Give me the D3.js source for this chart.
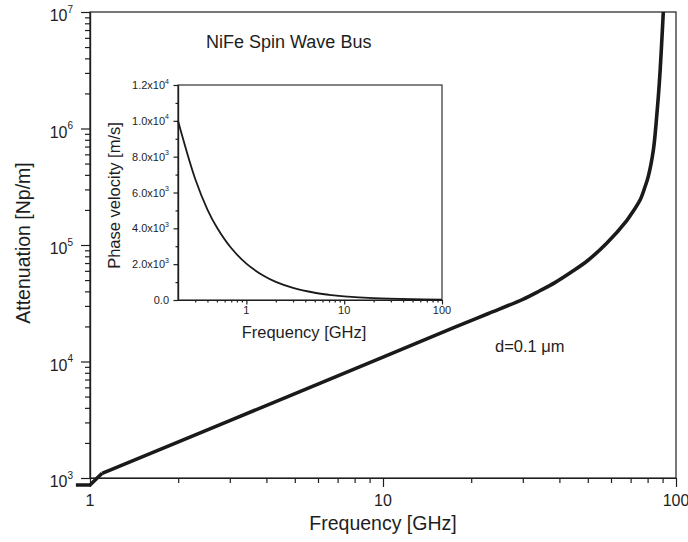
<!DOCTYPE html>
<html><head><meta charset="utf-8">
<script src="https://cdn.jsdelivr.net/npm/d3@7"></script>
<style>
body{margin:0;background:#fff}
svg text{font-family:"Liberation Sans",Arial,Helvetica,sans-serif;fill:#1e1e1e}
</style>
</head><body>
<svg id="c" width="688" height="542"></svg>
<script>
// ---- data ----
// low-frequency stub (drawn straight)
const stubFreq  = [0.895, 1.0, 1.1];
const stubAtten = [871, 871, 1097];
// main attenuation curve
const mainFreq  = [1.1, 3.0, 10, 17.6, 22.8, 30, 34.3, 38.6, 44.6, 50.1, 58.0, 67.9, 71.5, 75.4, 78.4, 80.4, 83.7, 85.9, 87.7, 89.1, 90.5];
const mainAtten = [1097, 3110, 10890, 19700, 25700, 34200, 40500, 47500, 60000, 74000, 103500, 162000, 196000, 243000, 316000, 386000, 653000, 1.26e6, 2.44e6, 4.72e6, 1e7];
const mainXTicks = [1, 10, 100];
const mainYTicks = [1e3, 1e4, 1e5, 1e6, 1e7];
const mainYExp   = ["3", "4", "5", "6", "7"];

const insetFreq = [0.2, 0.3, 0.4, 0.5, 0.7, 1.0, 1.5, 2.0, 3.0, 5.0, 7.0, 10, 20, 50, 100];
const insetVel  = [10000, 6750, 5050, 4050, 2900, 2030, 1350, 1010, 675, 405, 290, 205, 102, 41, 20];
const insetXTicks = [1, 10, 100];
const insetYTicks = [0, 2000, 4000, 6000, 8000, 10000, 12000];
const insetYMant  = ["0.0", "2.0x10", "4.0x10", "6.0x10", "8.0x10", "1.0x10", "1.2x10"];
const insetYExp   = ["", "3", "3", "3", "3", "4", "4"];

const titleText = "NiFe Spin Wave Bus";
const noteText = "d=0.1 \u03BCm";
const xLabel = "Frequency [GHz]";
const yLabel = "Attenuation [Np/m]";
const insetYLabel = "Phase velocity [m/s]";

// ---- layout ----
const svg = d3.select("#c");
const M = {l: 90, r: 676, t: 12, b: 478};
const x = d3.scaleLog().domain([1, 100]).range([M.l, M.r]);
const y = d3.scaleLog().domain([1e3, 1e7]).range([M.b, M.t]);

const ink = "#1e1e1e";

function minorLog(lo, hi) {
  const out = [];
  for (let d = lo; d < hi; d *= 10) for (let k = 2; k <= 9; k++) out.push(k * d);
  return out;
}

function styleAxis(g) {
  g.select(".domain").attr("stroke", ink).attr("stroke-width", 1.2);
  g.selectAll(".tick line").attr("stroke", ink).attr("stroke-width", 1.2);
  g.selectAll(".tick text").remove();
}

// main frame
svg.append("rect").attr("x", M.l).attr("y", M.t).attr("width", M.r - M.l).attr("height", M.b - M.t)
  .attr("fill", "none").attr("stroke", ink).attr("stroke-width", 1.2);

// main x axis
svg.append("g").attr("transform", `translate(0,${M.b})`)
  .call(d3.axisBottom(x).tickValues(minorLog(1, 100)).tickSize(5).tickSizeOuter(0).tickFormat(""))
  .call(styleAxis);
svg.append("g").attr("transform", `translate(0,${M.b})`)
  .call(d3.axisBottom(x).tickValues(mainXTicks).tickSize(9).tickSizeOuter(0).tickFormat(""))
  .call(styleAxis);
svg.append("g").selectAll("text").data(mainXTicks).join("text")
  .attr("x", d => x(d)).attr("y", 506).attr("text-anchor", "middle")
  .attr("font-size", 16).text(d => d);

// main y axis
svg.append("g").attr("transform", `translate(${M.l},0)`)
  .call(d3.axisLeft(y).tickValues(minorLog(1e3, 1e7)).tickSize(5).tickSizeOuter(0).tickFormat(""))
  .call(styleAxis);
svg.append("g").attr("transform", `translate(${M.l},0)`)
  .call(d3.axisLeft(y).tickValues(mainYTicks).tickSize(9).tickSizeOuter(0).tickFormat(""))
  .call(styleAxis);
const yl = svg.append("g").selectAll("text").data(mainYTicks).join("text")
  .attr("x", 73).attr("y", d => y(d) + 9).attr("text-anchor", "end").attr("font-size", 16);
yl.append("tspan").text("10");
yl.append("tspan").attr("dy", -8.5).attr("font-size", 10).text((d, i) => mainYExp[i]);

// axis titles
svg.append("text").attr("x", (M.l + M.r) / 2).attr("y", 530).attr("text-anchor", "middle")
  .attr("font-size", 19.5).text(xLabel);
svg.append("text").attr("transform", `translate(29.5,${(M.t + M.b) / 2 - 2}) rotate(-90)`)
  .attr("text-anchor", "middle").attr("font-size", 19.5).text(yLabel);

// main curve
const stubPts = stubFreq.map((f, i) => [f, stubAtten[i]]);
const mainPts = mainFreq.map((f, i) => [f, mainAtten[i]]);
const curveStyle = p => p.attr("fill", "none").attr("stroke", "#1a1a1a").attr("stroke-width", 3.6)
  .attr("stroke-linejoin", "round").attr("stroke-linecap", "butt");
svg.append("path").datum(stubPts)
  .attr("d", d3.line().x(d => x(d[0])).y(d => y(d[1])))
  .call(curveStyle);
svg.append("path").datum(mainPts)
  .attr("d", d3.line().x(d => x(d[0])).y(d => y(d[1])).curve(d3.curveCatmullRom.alpha(0.5)))
  .call(curveStyle);

// annotations
svg.append("text").attr("x", 206).attr("y", 48).attr("font-size", 18).text(titleText);
svg.append("text").attr("x", 495).attr("y", 352).attr("font-size", 16.5).text(noteText);

// ---- inset ----
const I = {l: 178, r: 442, t: 85, b: 300};
const xi = d3.scaleLog().domain([0.2, 100]).range([I.l, I.r]);
const yi = d3.scaleLinear().domain([0, 12000]).range([I.b, I.t]);

svg.append("rect").attr("x", I.l).attr("y", I.t).attr("width", I.r - I.l).attr("height", I.b - I.t)
  .attr("fill", "#fff").attr("stroke", ink).attr("stroke-width", 1.1);

const insetMinorX = [0.3,0.4,0.5,0.6,0.7,0.8,0.9].concat(minorLog(1, 100));
svg.append("g").attr("transform", `translate(0,${I.b})`)
  .call(d3.axisBottom(xi).tickValues(insetMinorX).tickSize(2.5).tickSizeOuter(0).tickFormat(""))
  .call(styleAxis);
svg.append("g").attr("transform", `translate(0,${I.b})`)
  .call(d3.axisBottom(xi).tickValues(insetXTicks).tickSize(4.5).tickSizeOuter(0).tickFormat(""))
  .call(styleAxis);
svg.append("g").selectAll("text").data(insetXTicks).join("text")
  .attr("x", d => xi(d)).attr("y", 314).attr("text-anchor", "middle")
  .attr("font-size", 11).text(d => d);

const insetMinorY = d3.range(1000, 12000, 2000);
svg.append("g").attr("transform", `translate(${I.l},0)`)
  .call(d3.axisLeft(yi).tickValues(insetMinorY).tickSize(2.5).tickSizeOuter(0).tickFormat(""))
  .call(styleAxis);
svg.append("g").attr("transform", `translate(${I.l},0)`)
  .call(d3.axisLeft(yi).tickValues(insetYTicks).tickSize(4.5).tickSizeOuter(0).tickFormat(""))
  .call(styleAxis);
const iyl = svg.append("g").selectAll("text").data(insetYTicks).join("text")
  .attr("x", 169).attr("y", d => yi(d) + 4).attr("text-anchor", "end").attr("font-size", 11);
iyl.append("tspan").text((d, i) => insetYMant[i]);
iyl.append("tspan").attr("dy", -5.5).attr("font-size", 7).text((d, i) => insetYExp[i]);

svg.append("text").attr("x", (I.l + I.r) / 2 - 6).attr("y", 338).attr("text-anchor", "middle")
  .attr("font-size", 16.5).text(xLabel);
svg.append("text").attr("transform", `translate(120,${(I.t + I.b) / 2 + 3}) rotate(-90)`)
  .attr("text-anchor", "middle").attr("font-size", 16.5).text(insetYLabel);

const insetPts = insetFreq.map((f, i) => [f, insetVel[i]]);
svg.append("path").datum(insetPts)
  .attr("d", d3.line().x(d => xi(d[0])).y(d => yi(d[1])).curve(d3.curveCatmullRom.alpha(0.5)))
  .attr("fill", "none").attr("stroke", "#1a1a1a").attr("stroke-width", 1.8);
</script>
</body></html>
